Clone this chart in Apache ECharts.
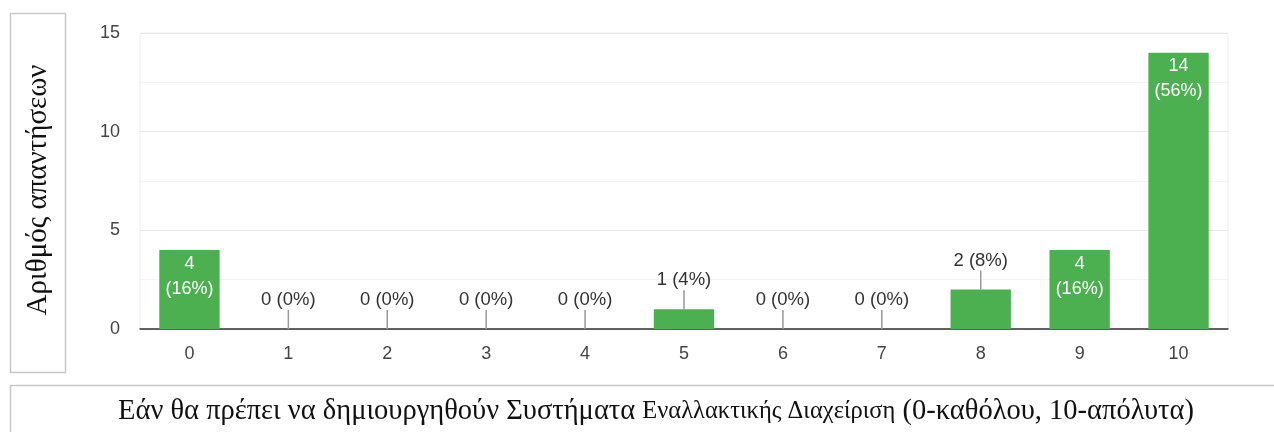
<!DOCTYPE html>
<html><head><meta charset="utf-8">
<script src="https://cdn.jsdelivr.net/npm/echarts@6/dist/echarts.min.js"></script>
<style>html,body{margin:0;padding:0;background:#fff}#c{width:1274px;height:432px}</style>
</head><body><div id="c"></div>
<script>
var categories = ['0','1','2','3','4','5','6','7','8','9','10'];
var counts = [4,0,0,0,0,1,0,0,2,4,14];
var yTicks = [0,5,10,15];
var yTitle = 'Αριθμός απαντήσεων';
var xTitleParts = ['Εάν θα πρέπει να δημιουργηθούν Συστήματα ', 'Εναλλακτικής Διαχείριση', ' (0-καθόλου, 10-απόλυτα)'];

var total = counts.reduce(function(a,b){return a+b;},0);
function pct(v){ return Math.round(v/total*100); }
var insideMin = 3;

var chart = echarts.init(document.getElementById('c'), null, {renderer:'canvas'});
var barData = counts.map(function(v){
  return {value:v, label:{show: v>=insideMin}};
});
var outData = [];
counts.forEach(function(v,i){ if(v<insideMin) outData.push([i,v]); });

var sans = 'Liberation Sans, Arial';
var serif = 'Liberation Serif, Times New Roman';

chart.setOption({
  animation:false,
  grid:{left:140,right:46,top:33,bottom:103,show:true,borderColor:'#ececec',borderWidth:1,backgroundColor:'transparent'},
  xAxis:{type:'category',data:categories,
    axisLine:{lineStyle:{color:'#333',width:1.5}},axisTick:{show:false},
    axisLabel:{color:'#444',fontSize:18,fontFamily:sans,margin:16}},
  yAxis:{type:'value',min:yTicks[0],max:yTicks[yTicks.length-1],interval:5,
    axisLine:{show:false},axisTick:{show:false},
    axisLabel:{color:'#444',fontSize:18,fontFamily:sans,margin:20},
    splitLine:{lineStyle:{color:'#e8e8e8'}},
    minorTick:{show:false,splitNumber:2},
    minorSplitLine:{show:true,lineStyle:{color:'#f3f3f3'}}},
  series:[{
    type:'bar',data:barData,barWidth:'61%',
    itemStyle:{color:'#4caf50'},
    label:{position:'insideTop',distance:1,color:'#fff',fontSize:18,lineHeight:25,
      fontFamily:sans,
      formatter:function(p){return p.value+'\n('+pct(p.value)+'%)';}}
  },{
    type:'custom',data:outData,z:5,
    renderItem:function(params,api){
      var i=api.value(0), v=api.value(1);
      var p=api.coord([i,v]);
      return {type:'group',children:[
        {type:'line',shape:{x1:p[0],y1:p[1],x2:p[0],y2:p[1]-19},style:{stroke:'#999',lineWidth:1.5}},
        {type:'text',x:p[0],y:p[1]-29,style:{text:v+' ('+pct(v)+'%)',fill:'#333',fontSize:18.5,
          fontFamily:sans,align:'center',verticalAlign:'middle'}}
      ]};
    }
  }],
  graphic:[
    {type:'rect',shape:{x:10.5,y:13.5,width:55,height:359},style:{fill:'none',stroke:'#c8c8c8',lineWidth:1.5}},
    {type:'text',x:38,y:190,rotation:Math.PI/2,style:{text:yTitle,fontSize:29,fontFamily:serif,fill:'#111',align:'center',verticalAlign:'middle'}},
    {type:'rect',shape:{x:10.5,y:385.5,width:1300,height:60},style:{fill:'none',stroke:'#c8c8c8',lineWidth:1.5}},
    {type:'text',x:656,y:412,style:{
      text:'{a|'+xTitleParts[0]+'}{b|'+xTitleParts[1]+'}{a|'+xTitleParts[2]+'}',
      align:'center',verticalAlign:'middle',
      rich:{a:{fontSize:28.5,fontFamily:serif,fill:'#111'},
            b:{fontSize:24.5,fontFamily:serif,fill:'#111'}}}}
  ]
});
</script></body></html>
